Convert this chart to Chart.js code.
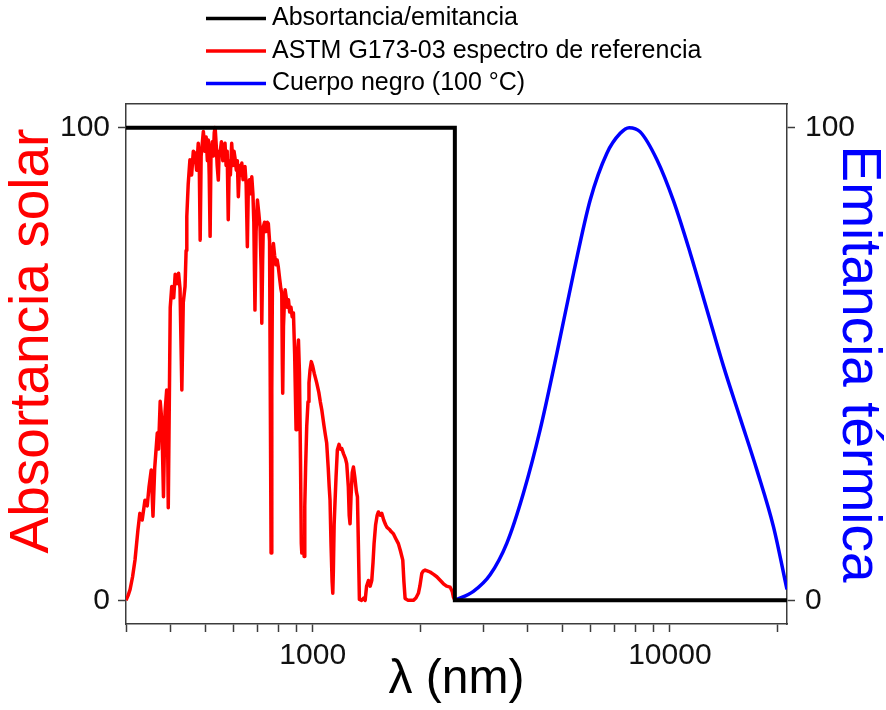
<!DOCTYPE html>
<html>
<head>
<meta charset="utf-8">
<title>Absortancia solar / Emitancia térmica</title>
<script src="https://cdn.jsdelivr.net/npm/chart.js@4.4.1/dist/chart.umd.min.js"></script>
<style>
  html, body { margin: 0; padding: 0; background: #fff; }
  canvas { display: block; }
</style>
</head>
<body>
<canvas id="myChart" width="886" height="710"></canvas>
<script>
// Step: ideal selective absorber (absortancia/emitancia)
var stepWl  = [300, 2500, 2500, 21280];
var stepVal = [100, 100, 0, 0];

// ASTM G173-03 reference spectrum (normalised)
var solarWl = [300, 304, 308, 313, 318, 324, 328, 333, 339, 344, 348, 353, 357, 361, 367, 370, 374, 378, 382, 386,
  390, 392, 394, 397, 399, 403, 408, 412, 417, 421, 425, 430, 434, 439, 442, 444, 448, 453, 458, 463,
  468, 473, 478, 481, 484, 487, 491, 494, 499, 503, 507, 510, 513, 516, 519, 523, 527, 530, 533, 537,
  540, 544, 547, 550, 555, 560, 564, 568, 572, 576, 580, 584, 588, 593, 598, 602, 606, 611, 615, 619,
  624, 628, 633, 638, 642, 646, 651, 656, 660, 665, 670, 675, 680, 684, 689, 694, 700, 706, 712, 717,
  720, 724, 727, 733, 740, 746, 751, 757, 761, 764.5, 768, 772, 776, 782, 789, 795, 801, 808, 814, 819,
  822, 824, 828, 832, 837, 843, 849, 855, 862, 869, 876, 883, 890, 898, 903, 908, 912, 918, 924, 929,
  932, 937, 942, 946, 950, 955, 962, 970, 976, 983, 991, 1000, 1010, 1018, 1026, 1040, 1050, 1060, 1075, 1085,
  1094, 1105, 1112, 1118, 1125, 1133, 1138, 1142, 1148, 1155, 1162, 1172, 1185, 1195, 1206, 1220, 1235, 1245, 1258, 1265,
  1272, 1280, 1290, 1300, 1312, 1325, 1334, 1342, 1351, 1370, 1390, 1402, 1415, 1432, 1448, 1463, 1475, 1485, 1500, 1515,
  1527, 1545, 1561, 1580, 1600, 1612, 1640, 1660, 1682, 1710, 1737, 1760, 1787, 1800, 1814, 1850, 1880, 1913, 1945, 1976,
  1995, 2020, 2040, 2064, 2100, 2131, 2180, 2225, 2270, 2323, 2370, 2425, 2460, 2477, 2500];
var solarVal = [0, 1, 2.3, 5, 8.6, 14.9, 18.4, 17, 21.2, 20, 24, 27.6, 17.8, 28, 35.4, 32, 42.1, 38, 21.9, 40,
  44.5, 36, 19.6, 45, 62, 66.4, 64, 69, 67, 69.2, 66, 44.5, 63, 66.4, 74, 81.2, 88, 93.2, 90, 95,
  94.6, 91, 96.7, 93, 76.2, 94, 97, 99.2, 95, 98, 93, 97.4, 90, 77, 95, 97, 94, 99, 100, 96,
  92, 88.9, 95, 94.6, 97, 93, 96, 96.7, 92, 95, 80.5, 93, 90, 96.7, 92, 95, 93.5, 91, 93, 85.4,
  92, 90, 92.5, 89, 91, 91.8, 88, 74.8, 87, 89, 86, 89.6, 86, 80, 61.4, 78, 84.7, 82, 79, 70,
  58.6, 72, 79, 80, 78, 80, 79.7, 76, 40, 10, 45, 74, 75.5, 73, 71, 72, 70.5, 68, 66, 65,
  50, 43.8, 58, 62, 65.7, 64, 62, 63.6, 61, 62, 60, 60.8, 52, 36.1, 45, 53, 55.1, 48, 30, 12,
  10, 11, 13, 9.3, 20, 28, 36.8, 42, 46, 48.8, 50.5, 49.5, 48, 47, 46, 44, 42, 40.3, 37, 35,
  33.3, 28, 24, 21.2, 12, 4, 1.5, 6, 16, 21.2, 26, 31.8, 33, 32, 32.1, 31, 30, 28.9, 24, 18,
  16.2, 22, 27, 28.2, 26, 23, 21.9, 12, 0.2, 0, 0.5, 0, 3, 4.2, 3, 4.2, 8, 12, 16, 18,
  18.7, 18, 18.4, 17, 16, 15.5, 15, 14.5, 14.1, 13, 12, 10.5, 8.5, 4, 0.4, 0, 0, 0, 0.5, 1.5,
  3, 5.7, 6.2, 6.4, 6.2, 6, 5.5, 5, 4.3, 3.5, 3, 2.8, 1.8, 0.7, 0];

// Black body at 100 °C (normalised)
var bbWl  = [2500, 2818, 3138, 3496, 3891, 4333, 4827, 5374, 5983, 6663, 7260, 7691, 8259, 9200, 10237, 11400, 12698, 14134, 15744, 17537, 19514, 21280];
var bbVal = [0, 1.9, 5.4, 12.1, 22.7, 36.1, 52.3, 69.2, 84.7, 94.6, 98.8, 100, 99.1, 93.2, 84.5, 73.5, 61.5, 49.5, 38.5, 27.5, 15.5, 2.3];

// Axis ticks
var xTicks = [300, 400, 500, 600, 700, 800, 900, 1000, 2000, 3000, 4000, 5000, 6000, 7000, 8000, 9000, 10000, 20000];
var xLabels = [1000, 10000];
var yTicks = [0, 100];

function toPoints(xs, ys) {
    return xs.map(function (x, i) { return { x: x, y: ys[i] }; });
}

Chart.defaults.font.family = '"Liberation Sans", Arial, sans-serif';
Chart.defaults.color = "#000";

// Legend stacked in rows above the plot
var legendRows = {
    id: "legendRows",
    afterDraw: function (chart) {
        var ctx = chart.ctx;
        ctx.save();
        ctx.font = '25px "Liberation Sans", Arial, sans-serif';
        ctx.textBaseline = "middle";
        ctx.textAlign = "left";
        chart.data.datasets.forEach(function (ds, i) {
            var y = 18.5 + i * 32.5;
            ctx.strokeStyle = ds.borderColor;
            ctx.lineWidth = 3.5;
            ctx.beginPath();
            ctx.moveTo(206, y);
            ctx.lineTo(266, y);
            ctx.stroke();
            ctx.fillStyle = "#000";
            ctx.fillText(ds.label, 272, y);
        });
        ctx.restore();
    }
};

var axisColor = "#3c3c3c";
var tickFont = { size: 30 };

var ctx = document.getElementById("myChart").getContext("2d");
var myChart = new Chart(ctx, {
    type: "line",
    data: {
        datasets: [
            {
                label: "Absortancia/emitancia",
                data: toPoints(stepWl, stepVal),
                borderColor: "#000000",
                borderWidth: 4,
                pointRadius: 0,
                tension: 0,
                xAxisID: "x",
                yAxisID: "y",
            },
            {
                label: "ASTM G173-03 espectro de referencia",
                data: toPoints(solarWl, solarVal),
                borderColor: "#ff0000",
                borderWidth: 3.5,
                borderJoinStyle: "round",
                pointRadius: 0,
                tension: 0,
                xAxisID: "x",
                yAxisID: "y",
            },
            {
                label: "Cuerpo negro (100 °C)",
                data: toPoints(bbWl, bbVal),
                borderColor: "#0000ff",
                borderWidth: 3.5,
                borderJoinStyle: "round",
                pointRadius: 0,
                cubicInterpolationMode: "monotone",
                xAxisID: "x",
                yAxisID: "y2",
            },
        ],
    },
    options: {
        responsive: false,
        animation: false,
        devicePixelRatio: 1,
        layout: { padding: { top: 104, left: 0, right: 0, bottom: 0 } },
        plugins: {
            legend: { display: false },
            tooltip: { enabled: false },
        },
        scales: {
            x: {
                type: "logarithmic",
                position: "bottom",
                min: 300,
                max: 21280,
                afterBuildTicks: function (scale) {
                    scale.ticks = xTicks.map(function (v) { return { value: v }; });
                },
                afterFit: function (scale) { scale.height = 86; },
                ticks: {
                    autoSkip: false,
                    maxRotation: 0,
                    padding: 6,
                    font: tickFont,
                    color: "#111",
                    callback: function (v) { return xLabels.indexOf(v) >= 0 ? String(v) : ""; },
                },
                grid: { drawOnChartArea: false, tickLength: 8, tickColor: axisColor, tickWidth: 1.5 },
                border: { color: axisColor, width: 1.5 },
                title: {
                    display: true,
                    text: "λ (nm)",
                    color: "#000",
                    font: { size: 48 },
                    padding: { top: 0, bottom: 1 },
                },
            },
            xTop: {
                type: "logarithmic",
                position: "top",
                min: 300,
                max: 21280,
                afterFit: function (scale) { scale.height = 0; },
                ticks: { display: false },
                grid: { display: false },
                border: { color: axisColor, width: 1.5 },
            },
            y: {
                position: "left",
                min: -5,
                max: 105,
                afterBuildTicks: function (scale) {
                    scale.ticks = yTicks.map(function (v) { return { value: v }; });
                },
                afterFit: function (scale) { scale.width = 126; },
                ticks: { padding: 8, font: tickFont, color: "#111" },
                grid: { drawOnChartArea: false, tickLength: 8, tickColor: axisColor, tickWidth: 1.5 },
                border: { color: axisColor, width: 1.5 },
                title: {
                    display: true,
                    text: "   Absortancia solar",
                    color: "#ff0000",
                    font: { size: 55 },
                    padding: { top: 0, bottom: 0 },
                },
            },
            y2: {
                position: "right",
                min: -5,
                max: 105,
                afterBuildTicks: function (scale) {
                    scale.ticks = yTicks.map(function (v) { return { value: v }; });
                },
                afterFit: function (scale) { scale.width = 99; },
                ticks: { padding: 10, font: tickFont, color: "#111" },
                grid: { drawOnChartArea: false, tickLength: 8, tickColor: axisColor, tickWidth: 1.5 },
                border: { color: axisColor, width: 1.5 },
                title: {
                    display: true,
                    text: "Emitancia térmica",
                    color: "#0000ff",
                    font: { size: 55, lineHeight: 1.0 },
                    padding: { top: 0, bottom: 0 },
                },
            },
        },
    },
    plugins: [legendRows],
});
</script>
</body>
</html>
